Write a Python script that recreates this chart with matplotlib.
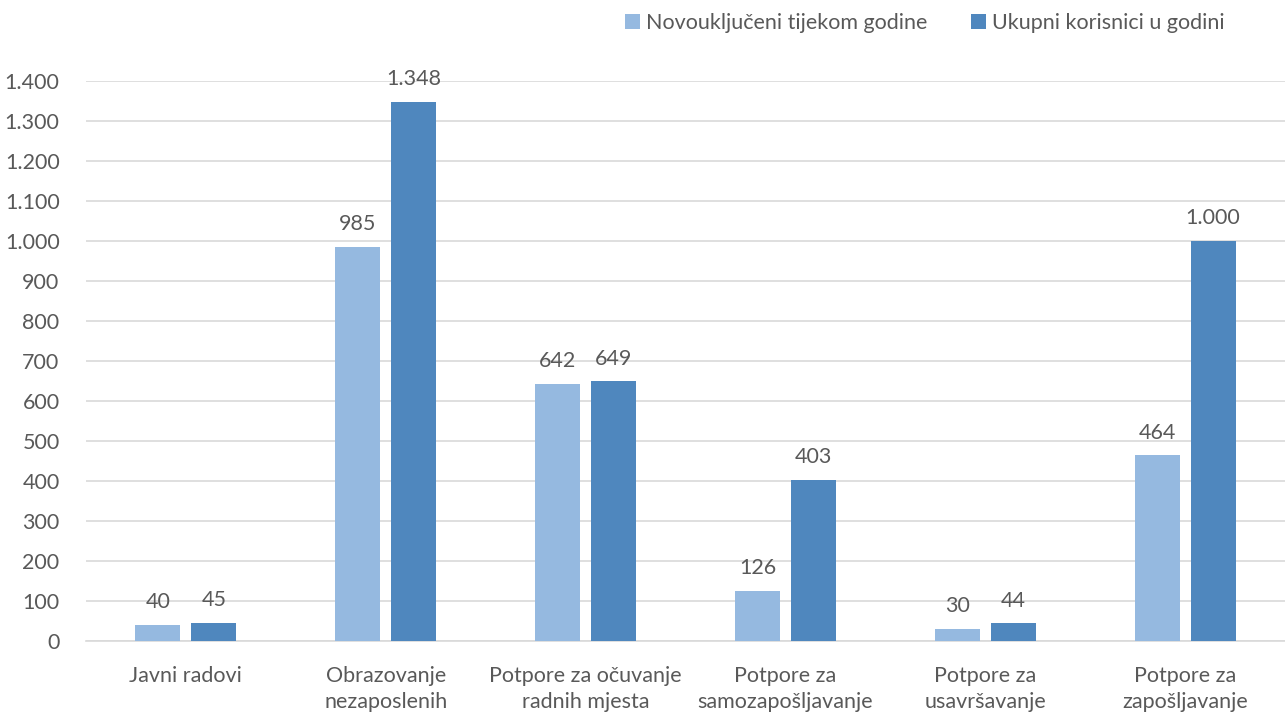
import numpy as np
import matplotlib.pyplot as plt
from matplotlib.ticker import FuncFormatter

categories = ['Javni radovi', 'Obrazovanje\nnezaposlenih', 'Potpore za očuvanje\nradnih mjesta',
              'Potpore za\nsamozapošljavanje', 'Potpore za\nusavršavanje', 'Potpore za\nzapošljavanje']
novi = [40, 985, 642, 126, 30, 464]
ukupni = [45, 1348, 649, 403, 44, 1000]
series_names = ['Novouključeni tijekom godine', 'Ukupni korisnici u godini']

plt.rcParams['font.family'] = ['Lato', 'DejaVu Sans']
txt = '#595959'
fs = 15.5

fig = plt.figure(figsize=(12.85, 7.13), dpi=100)
ax = fig.add_axes([86 / 1285, 72 / 713, 1199 / 1285, 560 / 713])

x = np.arange(len(categories))
w = 0.225
b1 = ax.bar(x - 0.14, novi, w, color='#95B9E0', label=series_names[0], zorder=3)
b2 = ax.bar(x + 0.14, ukupni, w, color='#4F87BE', label=series_names[1], zorder=3)

def fmt(v, pos=None):
    return f'{int(v):,}'.replace(',', '.')

for bars, vals in ((b1, novi), (b2, ukupni)):
    for r, v in zip(bars, vals):
        ax.text(r.get_x() + r.get_width() / 2, v + 32, fmt(v), ha='center', va='bottom',
                fontsize=fs, color=txt)

ax.set_xlim(-0.5, 5.5)
ax.set_ylim(0, 1400)
ax.set_yticks(np.arange(0, 1401, 100))
ax.yaxis.set_major_formatter(FuncFormatter(fmt))
ax.set_xticks(x)
ax.set_xticklabels(categories, linespacing=1.35)
ax.tick_params(axis='both', length=0, labelsize=fs, colors=txt)
ax.tick_params(axis='x', pad=18)
ax.tick_params(axis='y', pad=19)
ax.grid(axis='y', color='#D9D9D9', linewidth=1.2, zorder=0)
for s in ['top', 'right', 'left']:
    ax.spines[s].set_visible(False)
ax.spines['bottom'].set_color('#D9D9D9')
ax.spines['bottom'].set_linewidth(1.2)

ax.legend(loc='upper right', bbox_to_anchor=(1238 / 1285, 1.0), bbox_transform=fig.transFigure,
          ncol=2, frameon=False, fontsize=fs, labelcolor=txt, handlelength=0.7, handleheight=0.7,
          handletextpad=0.3, columnspacing=2.0, borderaxespad=0.2)

fig.savefig('out.png', dpi=100)
